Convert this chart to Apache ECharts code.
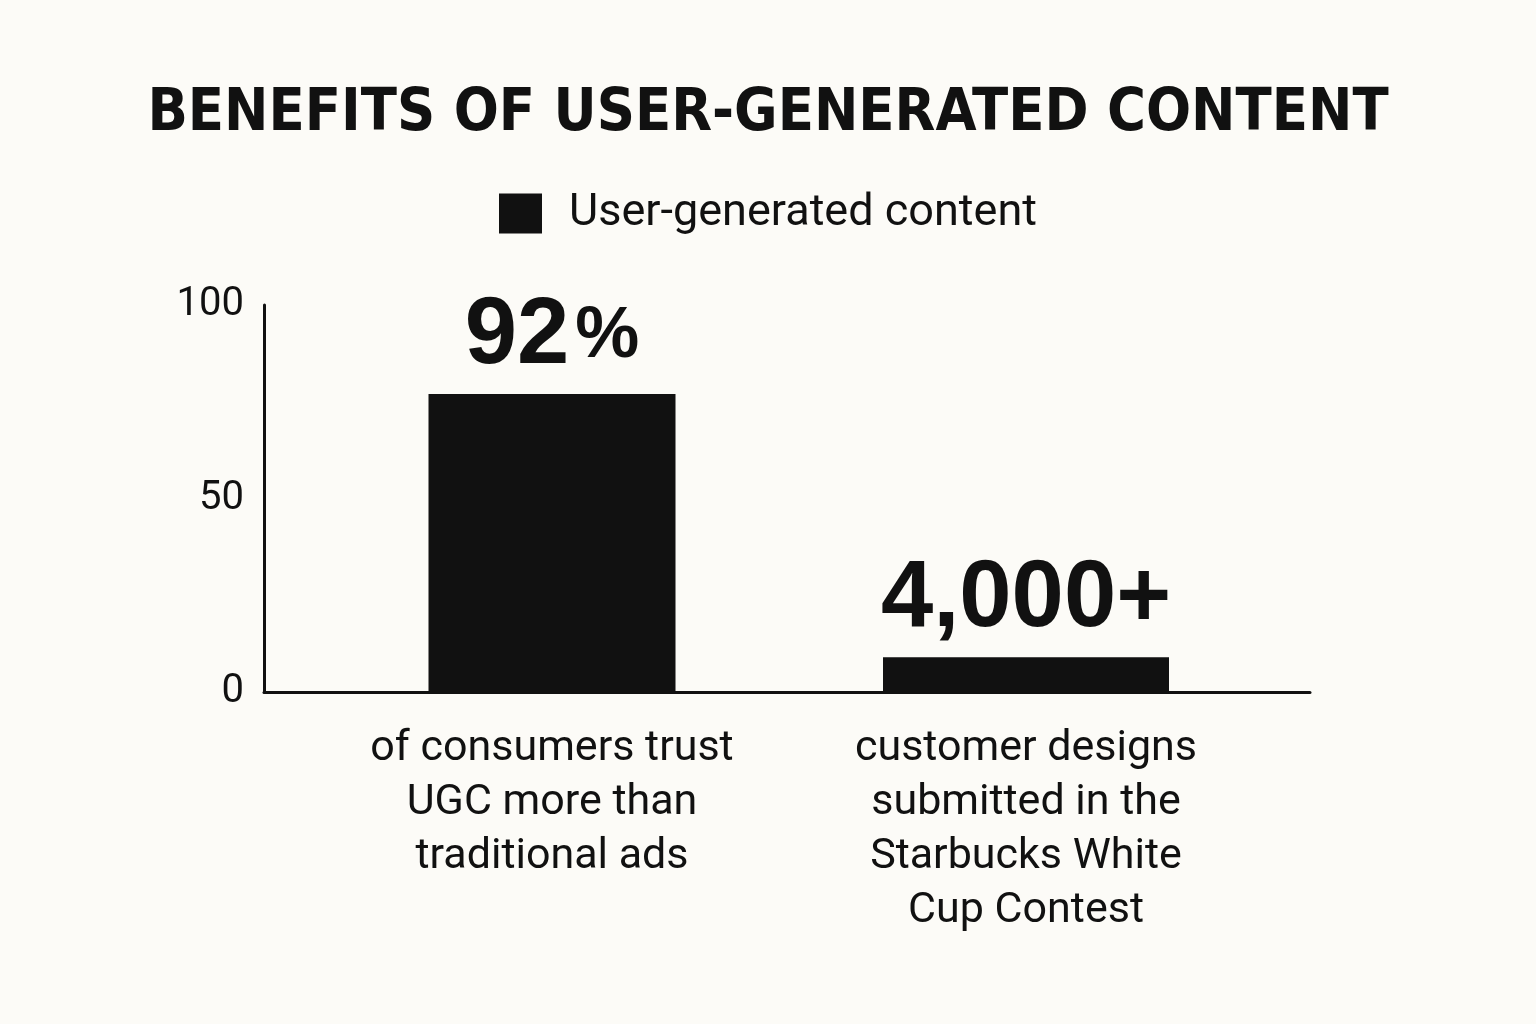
<!DOCTYPE html>
<html>
<head>
<meta charset="utf-8">
<script src="https://cdn.jsdelivr.net/npm/echarts@6/dist/echarts.min.js"></script>
<style>
  html, body { margin: 0; padding: 0; background: #fcfbf7; }
  #chart { width: 1536px; height: 1024px; }
</style>
</head>
<body>
<div id="chart"></div>
<script>
const categories = [
    'of consumers trust\nUGC more than\ntraditional ads',
    'customer designs\nsubmitted in the\nStarbucks White\nCup Contest'
];
const barValues = [77, 9];
const valueLabels = ['{n|92}{p|%}', '{n|4,000+}'];
const yTicks = [0, 50, 100];

document.addEventListener('DOMContentLoaded', () => {
    const chart = echarts.init(document.getElementById('chart'));

    const ink = '#111';
    const plotTop = 305;
    const plotBottom = 332;

    // each bar gets its own hidden category axis so it can keep its own width
    const barAxis = (show) => ({
        type: 'category',
        gridIndex: 1,
        data: categories,
        axisLine: { show: false },
        axisTick: { show: false },
        axisLabel: {
            show: show,
            margin: 30,
            fontFamily: 'Roboto',
            fontSize: 43,
            lineHeight: 54,
            color: ink
        }
    });

    const valueLabel = {
        show: true,
        position: 'top',
        distance: 10,
        formatter: (p) => valueLabels[p.dataIndex],
        rich: {
            n: { fontFamily: 'Liberation Sans', fontWeight: 'bold', fontSize: 94, color: ink },
            p: { fontFamily: 'Liberation Sans', fontWeight: 'bold', fontSize: 72, color: ink, padding: [0, 0, 0, 6] }
        }
    };

    const option = {
        backgroundColor: '#fcfbf7',
        title: {
            text: 'BENEFITS OF USER-GENERATED CONTENT',
            left: 'center',
            top: 80,
            textStyle: {
                fontFamily: "'DejaVu Sans Condensed', 'Roboto Condensed', Roboto, sans-serif",
                fontWeight: 'bold',
                fontSize: 59,
                color: ink
            }
        },
        legend: {
            data: ['User-generated content'],
            top: 186,
            left: 'center',
            itemWidth: 43,
            itemHeight: 40,
            icon: 'rect',
            textStyle: {
                fontFamily: 'Roboto',
                fontSize: 45,
                color: ink,
                padding: [0, 0, 0, 22]
            }
        },
        grid: [
            { left: 264, right: 226, top: plotTop, bottom: plotBottom },
            { left: 315, right: 273, top: plotTop, bottom: plotBottom }
        ],
        xAxis: [
            {
                type: 'category',
                gridIndex: 0,
                data: categories,
                axisLine: { lineStyle: { color: ink, width: 3 } },
                axisTick: { show: false },
                axisLabel: { show: false }
            },
            barAxis(true),
            barAxis(false)
        ],
        yAxis: [
            {
                type: 'value',
                gridIndex: 0,
                min: yTicks[0],
                max: yTicks[yTicks.length - 1],
                interval: 50,
                axisLine: { show: true, lineStyle: { color: ink, width: 3 } },
                axisTick: { show: false },
                splitLine: { show: false },
                axisLabel: {
                    margin: 20,
                    fontFamily: 'Roboto',
                    fontSize: 40,
                    color: ink
                }
            },
            {
                type: 'value',
                gridIndex: 1,
                min: yTicks[0],
                max: yTicks[yTicks.length - 1],
                show: false
            }
        ],
        series: [
            {
                name: 'User-generated content',
                type: 'bar',
                xAxisIndex: 1,
                yAxisIndex: 1,
                data: [barValues[0], '-'],
                barWidth: 247,
                itemStyle: { color: ink },
                label: valueLabel
            },
            {
                name: 'User-generated content',
                type: 'bar',
                xAxisIndex: 2,
                yAxisIndex: 1,
                data: ['-', barValues[1]],
                barWidth: 286,
                itemStyle: { color: ink },
                label: valueLabel
            }
        ]
    };

    chart.setOption(option);

    window.addEventListener('resize', () => {
        chart.resize();
    });
});
</script>
</body>
</html>
